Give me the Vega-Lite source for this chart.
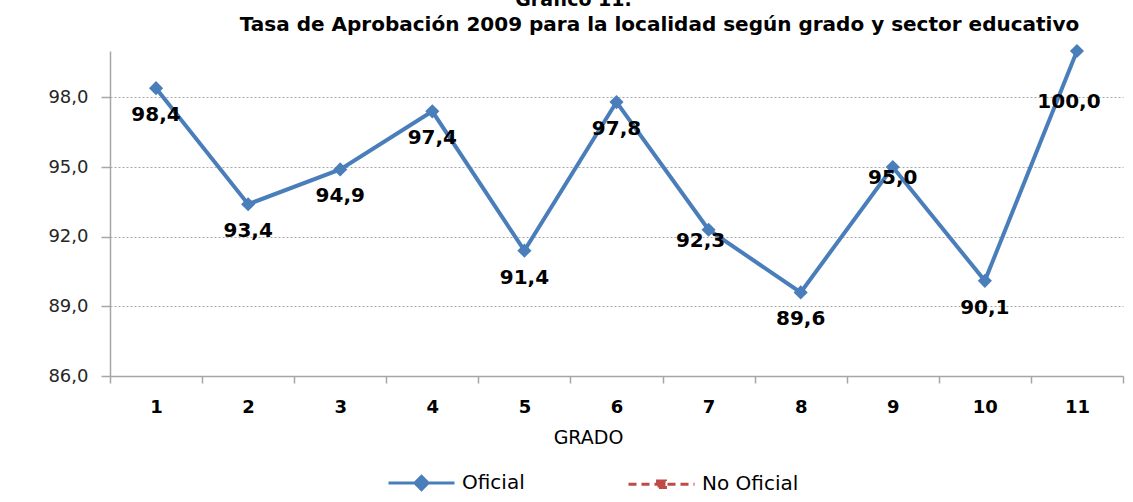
{
  "$schema": "https://vega.github.io/schema/vega-lite/v6.json",
  "width": 1013,
  "height": 325,
  "autosize": {"type": "none"},
  "padding": {"left": 110, "top": 51, "right": 10, "bottom": 126},
  "background": "white",
  "config": {
    "locale": {"number": {"decimal": ",", "thousands": ".", "grouping": [3], "currency": ["", " €"]}},
    "view": {"stroke": null},
    "font": "DejaVu Sans"
  },
  "title": {
    "text": "Gráfico 11.",
    "anchor": "middle",
    "frame": "group",
    "dx": -43,
    "offset": -11,
    "baseline": "alphabetic",
    "font": "DejaVu Sans",
    "fontSize": 19,
    "fontWeight": "bold",
    "color": "#000000"
  },
  "data": {
    "values": [
      {"grado": 1, "sector": "Oficial", "tasa": 98.4},
      {"grado": 2, "sector": "Oficial", "tasa": 93.4},
      {"grado": 3, "sector": "Oficial", "tasa": 94.9},
      {"grado": 4, "sector": "Oficial", "tasa": 97.4},
      {"grado": 5, "sector": "Oficial", "tasa": 91.4},
      {"grado": 6, "sector": "Oficial", "tasa": 97.8},
      {"grado": 7, "sector": "Oficial", "tasa": 92.3},
      {"grado": 8, "sector": "Oficial", "tasa": 89.6},
      {"grado": 9, "sector": "Oficial", "tasa": 95.0},
      {"grado": 10, "sector": "Oficial", "tasa": 90.1},
      {"grado": 11, "sector": "Oficial", "tasa": 100.0}
    ]
  },
  "encoding": {
    "x": {
      "field": "grado",
      "type": "ordinal",
      "scale": {"type": "band", "paddingInner": 0, "paddingOuter": 0},
      "axis": {
        "title": "GRADO",
        "titleFont": "DejaVu Sans",
        "titleFontSize": 19,
        "titleFontWeight": "normal",
        "titleColor": "#000000",
        "titleX": 478,
        "titlePadding": 12,
        "labelAngle": 0,
        "labelFont": "DejaVu Sans",
        "labelFontSize": 18,
        "labelFontWeight": "bold",
        "labelColor": "#000000",
        "labelPadding": 15,
        "tickBand": "extent",
        "tickSize": 7,
        "tickColor": "#a6a6a6",
        "tickWidth": 1.5,
        "domainColor": "#a6a6a6",
        "domainWidth": 1.5,
        "grid": false
      }
    },
    "y": {
      "field": "tasa",
      "type": "quantitative",
      "scale": {"domain": [86, 100], "nice": false, "zero": false},
      "axis": {
        "title": "Tasa de Aprobación 2009 para la localidad según grado y sector educativo",
        "titleAngle": 0,
        "titleX": 549,
        "titleY": -21,
        "titleAlign": "center",
        "titleBaseline": "alphabetic",
        "titleFont": "DejaVu Sans",
        "titleFontSize": 20,
        "titleFontWeight": "bold",
        "titleColor": "#000000",
        "titleLimit": 1100,
        "values": [86, 89, 92, 95, 98],
        "format": ".1f",
        "labelFont": "DejaVu Sans",
        "labelFontSize": 18,
        "labelColor": "#262626",
        "labelPadding": 13,
        "tickSize": 9,
        "tickColor": "#a6a6a6",
        "tickWidth": 1.5,
        "domainColor": "#a6a6a6",
        "domainWidth": 1.5,
        "grid": true,
        "gridColor": "#a6a6a6",
        "gridDash": [2, 2],
        "gridWidth": 1
      }
    }
  },
  "layer": [
    {
      "mark": {"type": "line", "strokeWidth": 4},
      "encoding": {
        "color": {
          "field": "sector",
          "type": "nominal",
          "scale": {"domain": ["Oficial", "No Oficial"], "range": ["#4a7ebb", "#be4b48"]},
          "legend": {
            "orient": "none",
            "legendX": 277,
            "legendY": 397,
            "direction": "horizontal",
            "title": null,
            "symbolType": "M-1,0L1,0M0,-0.2L0.2,0L0,0.2L-0.2,0Z",
            "symbolSize": 4356,
            "symbolStrokeWidth": 3,
            "labelFont": "DejaVu Sans",
            "labelFontSize": 20,
            "labelColor": "#000000",
            "labelOffset": 6,
            "columnPadding": 97,
            "encode": {
              "symbols": {
                "update": {
                  "shape": {"signal": "datum.value === 'Oficial' ? 'M-1,0L1,0M0,-0.2L0.2,0L0,0.2L-0.2,0Z' : 'M-1,0L1,0M-0.12,-0.1L0.12,-0.1L0.12,0.1L-0.12,0.1Z'"},
                  "fill": {"scale": "color", "field": "value"},
                  "strokeDash": {"signal": "datum.value === 'Oficial' ? [] : [8, 5]"}
                }
              }
            }
          }
        }
      }
    },
    {
      "mark": {"type": "point", "shape": "diamond", "filled": true, "size": 200, "color": "#4a7ebb", "opacity": 1}
    },
    {
      "transform": [{"filter": "datum.grado != 7 && datum.grado != 9 && datum.grado != 11"}],
      "mark": {"type": "text", "dy": 27, "font": "DejaVu Sans", "fontSize": 20, "fontWeight": "bold", "color": "#000000", "baseline": "middle", "align": "center"},
      "encoding": {"text": {"field": "tasa", "type": "quantitative", "format": ".1f"}}
    },
    {
      "transform": [{"filter": "datum.grado == 7"}],
      "mark": {"type": "text", "dy": 11, "dx": -8, "font": "DejaVu Sans", "fontSize": 20, "fontWeight": "bold", "color": "#000000", "baseline": "middle", "align": "center"},
      "encoding": {"text": {"field": "tasa", "type": "quantitative", "format": ".1f"}}
    },
    {
      "transform": [{"filter": "datum.grado == 9"}],
      "mark": {"type": "text", "dy": 11, "font": "DejaVu Sans", "fontSize": 20, "fontWeight": "bold", "color": "#000000", "baseline": "middle", "align": "center"},
      "encoding": {"text": {"field": "tasa", "type": "quantitative", "format": ".1f"}}
    },
    {
      "transform": [{"filter": "datum.grado == 11"}],
      "mark": {"type": "text", "dy": 51, "dx": -8, "font": "DejaVu Sans", "fontSize": 20, "fontWeight": "bold", "color": "#000000", "baseline": "middle", "align": "center"},
      "encoding": {"text": {"field": "tasa", "type": "quantitative", "format": ".1f"}}
    }
  ]
}
